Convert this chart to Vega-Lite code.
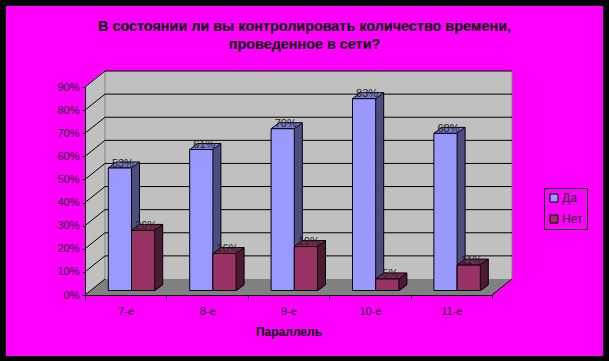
{
"$schema":"https://vega.github.io/schema/vega-lite/v6.json",
"width":407,"height":208,
"autosize":{"type":"none"},
"padding":{"left":85,"top":87,"right":117,"bottom":66},
"background":"#000000",
"view":{"stroke":null},
"config":{"axisY":{"tickCount":9,"format":".0%","labelOverlap":false,"grid":false,"domainColor":"#000","tickColor":"#000","tickSize":3,"labelColor":"#222","labelFont":"Liberation Sans","labelFontSize":11,"labelPadding":3}},
"title":{"text":["В состоянии ли вы контролировать количество времени,","проведенное в сети?"],"font":"Liberation Sans","fontSize":14.4,"fontWeight":"bold","color":"#000000","anchor":"middle","dx":16,"offset":-46.5,"lineHeight":18,"zindex":1},
"datasets":{
"main":[
{"grade":"7-е","series":"Да","value":0.53},{"grade":"8-е","series":"Да","value":0.61},{"grade":"9-е","series":"Да","value":0.70},{"grade":"10-е","series":"Да","value":0.83},{"grade":"11-е","series":"Да","value":0.68},
{"grade":"7-е","series":"Нет","value":0.26},{"grade":"8-е","series":"Нет","value":0.16},{"grade":"9-е","series":"Нет","value":0.19},{"grade":"10-е","series":"Нет","value":0.05},{"grade":"11-е","series":"Нет","value":0.11}],
"ticks":[{"v":0},{"v":0.1},{"v":0.2},{"v":0.3},{"v":0.4},{"v":0.5},{"v":0.6},{"v":0.7},{"v":0.8},{"v":0.9}],
"one":[{"part":"chart"}]
},
"resolve":{"scale":{"x":"independent"}},
"layer":[
{"data":{"name":"one"},"layer":[
{"mark":{"type":"rect","fill":"#FF00FF","xOffset":-79,"x2Offset":111,"yOffset":-81,"y2Offset":61},
 "encoding":{"x":{"datum":0,"type":"quantitative","scale":{"domain":[0,5]},"axis":null},"x2":{"datum":5},
  "y":{"datum":0.9,"type":"quantitative","scale":{"domain":[0,0.9]},"axis":{"zindex":1,"title":null}},"y2":{"datum":0}}},
{"mark":{"type":"rect","fill":"#C0C0C0","x2Offset":20,"yOffset":-16},
 "encoding":{"x":{"datum":0,"type":"quantitative","scale":{"domain":[0,5]},"axis":null},"x2":{"datum":0},"y":{"datum":0.9,"type":"quantitative"},"y2":{"datum":0}}},
{"mark":{"type":"point","shape":"M0,0L0,-17L20,-17Z","size":4,"filled":true,"fill":"#FF00FF","stroke":null,"opacity":1},
 "encoding":{"x":{"datum":0,"type":"quantitative","scale":{"domain":[0,5]},"axis":null},"y":{"datum":0.9,"type":"quantitative"}}},
{"mark":{"type":"rect","fill":"#C0C0C0","xOffset":20,"x2Offset":20,"yOffset":-16,"y2Offset":-16},
 "encoding":{"x":{"datum":0,"type":"quantitative","scale":{"domain":[0,5]},"axis":null},"x2":{"datum":5},"y":{"datum":0.9,"type":"quantitative"},"y2":{"datum":0}}},
{"mark":{"type":"rect","fill":"#808080","x2Offset":20,"yOffset":-16},
 "encoding":{"x":{"datum":0,"type":"quantitative","scale":{"domain":[0,5]},"axis":null},"x2":{"datum":5},"y":{"datum":0,"type":"quantitative"},"y2":{"datum":0}}},
{"mark":{"type":"point","shape":"M0,0L20,-16L0,-16Z","size":4,"filled":true,"fill":"#C0C0C0","stroke":null,"opacity":1},
 "encoding":{"x":{"datum":0,"type":"quantitative","scale":{"domain":[0,5]},"axis":null},"y":{"datum":0,"type":"quantitative"}}},
{"mark":{"type":"point","shape":"M0,0L20,-16L21,-16L21,1L0,1Z","size":4,"filled":true,"fill":"#FF00FF","stroke":null,"opacity":1},
 "encoding":{"x":{"datum":5,"type":"quantitative","scale":{"domain":[0,5]},"axis":null},"y":{"datum":0,"type":"quantitative"}}},
{"mark":{"type":"rule","stroke":"#808080","strokeWidth":1,"xOffset":20,"x2Offset":20,"yOffset":-16,"y2Offset":-16},
 "encoding":{"x":{"datum":0,"type":"quantitative","scale":{"domain":[0,5]},"axis":null},"x2":{"datum":0},"y":{"datum":0.9,"type":"quantitative"},"y2":{"datum":0}}},
{"mark":{"type":"rule","stroke":"#808080","strokeWidth":1,"xOffset":20,"x2Offset":20,"yOffset":-16,"y2Offset":-16},
 "encoding":{"x":{"datum":5,"type":"quantitative","scale":{"domain":[0,5]},"axis":null},"x2":{"datum":5},"y":{"datum":0.9,"type":"quantitative"},"y2":{"datum":0}}},
{"data":{"name":"ticks"},"mark":{"type":"rule","stroke":"#000","strokeWidth":1,"x2Offset":20,"y2Offset":-16},
 "encoding":{"x":{"datum":0,"type":"quantitative","scale":{"domain":[0,5]},"axis":null},"x2":{"datum":0},"y":{"field":"v","type":"quantitative","title":null},"y2":{"field":"v"}}},
{"data":{"name":"ticks"},"transform":[{"filter":"datum.v>0"}],"mark":{"type":"rule","stroke":"#000","strokeWidth":1,"xOffset":20,"x2Offset":20,"yOffset":-16,"y2Offset":-16},
 "encoding":{"x":{"datum":0,"type":"quantitative","scale":{"domain":[0,5]},"axis":null},"x2":{"datum":5},"y":{"field":"v","type":"quantitative","title":null},"y2":{"field":"v"}}},
{"mark":{"type":"rule","stroke":"#000","strokeWidth":1,"x2Offset":20,"y2Offset":-16},
 "encoding":{"x":{"datum":5,"type":"quantitative","scale":{"domain":[0,5]},"axis":null},"x2":{"datum":5},"y":{"datum":0,"type":"quantitative"},"y2":{"datum":0}}}
]},
{"data":{"name":"main"},
 "encoding":{"x":{"field":"grade","type":"nominal","sort":["7-е","8-е","9-е","10-е","11-е"],"scale":{"paddingInner":0,"paddingOuter":0},"axis":{"title":"Параллель","titleFont":"Liberation Sans","titleFontSize":12,"titleFontWeight":"bold","titleColor":"#000","titlePadding":10,"labelAngle":0,"labelColor":"#222","labelFont":"Liberation Sans","labelFontSize":11,"labelPadding":6,"tickBand":"extent","tickSize":4,"tickColor":"#000","domainColor":"#000","zindex":1}},
 "y":{"field":"value","type":"quantitative","title":null}},
 "layer":[
 {"transform":[{"filter":"datum.series==='Да'"}],"layer":[
  {"mark":{"type":"bar","size":8,"fill":"#4D4D80","xOffset":9.8,"yOffset":-10.5,"y2Offset":-4.5},
   "encoding":{"y2":{"datum":0}}},
  {"mark":{"type":"rule","stroke":"#000","xOffset":13.8,"yOffset":-10.5,"y2Offset":-10.5},
   "encoding":{"y2":{"datum":0}}},
  {"mark":{"type":"point","shape":"M-11.6,0L11.6,0L19.6,-6L-3.6,-6Z","size":4,"filled":true,"fill":"#7A7ACC","stroke":"#000","strokeWidth":1,"opacity":1,"xOffset":-5.8,"yOffset":-4.5},
   "encoding":{}},
  {"mark":{"type":"bar","size":23.2,"stroke":"#000","strokeWidth":1,"xOffset":-5.8,"yOffset":-4.5,"y2Offset":-4.5},
   "encoding":{"y2":{"datum":0},
    "color":{"field":"series","type":"nominal","scale":{"domain":["Да","Нет"],"range":["#9999FF","#993366"]},
     "legend":{"orient":"none","legendX":459,"legendY":101,"title":null,"strokeColor":"#000","fillColor":null,"padding":4,"symbolType":"square","symbolSize":64,"symbolStrokeColor":"#000","symbolStrokeWidth":1,"labelFont":"Liberation Sans","labelFontSize":12,"labelColor":"#222","rowPadding":9,"labelOffset":2}}}}
 ]},
 {"transform":[{"filter":"datum.series==='Нет'"}],"layer":[
  {"mark":{"type":"bar","size":8,"fill":"#4D1A33","xOffset":33,"yOffset":-10.5,"y2Offset":-4.5},
   "encoding":{"y2":{"datum":0}}},
  {"mark":{"type":"point","shape":"M0,1L9,1L9,-6Z","size":4,"filled":true,"fill":"#808080","stroke":null,"opacity":1,"xOffset":29,"yOffset":-4.5},
   "encoding":{"y":{"datum":0,"type":"quantitative"}}},
  {"mark":{"type":"rule","stroke":"#000","xOffset":37,"yOffset":-10.5,"y2Offset":-10.5},
   "encoding":{"y2":{"datum":0}}},
  {"mark":{"type":"point","shape":"M0,0L8,-6","size":4,"filled":false,"stroke":"#000","strokeWidth":1,"opacity":1,"xOffset":29,"yOffset":-4.5},
   "encoding":{"y":{"datum":0,"type":"quantitative"}}},
  {"mark":{"type":"point","shape":"M-11.6,0L11.6,0L19.6,-6L-3.6,-6Z","size":4,"filled":true,"fill":"#7A2952","stroke":"#000","strokeWidth":1,"opacity":1,"xOffset":17.4,"yOffset":-4.5},
   "encoding":{}},
  {"mark":{"type":"bar","size":23.2,"stroke":"#000","strokeWidth":1,"xOffset":17.4,"yOffset":-4.5,"y2Offset":-4.5},
   "encoding":{"y2":{"datum":0},"color":{"field":"series","type":"nominal"}}}
 ]},
 {"mark":{"type":"text","font":"Liberation Sans","fontSize":11,"color":"#222","baseline":"alphabetic","align":"center","yOffset":-6,"xOffset":-2.8},
  "transform":[{"filter":"datum.series==='Да'"}],
  "encoding":{"text":{"field":"value","type":"quantitative","format":".0%"}}},
 {"mark":{"type":"text","font":"Liberation Sans","fontSize":11,"color":"#222","baseline":"alphabetic","align":"center","yOffset":-6,"xOffset":20.4},
  "transform":[{"filter":"datum.series==='Нет'"}],
  "encoding":{"text":{"field":"value","type":"quantitative","format":".0%"}}}
 ]}
]}
